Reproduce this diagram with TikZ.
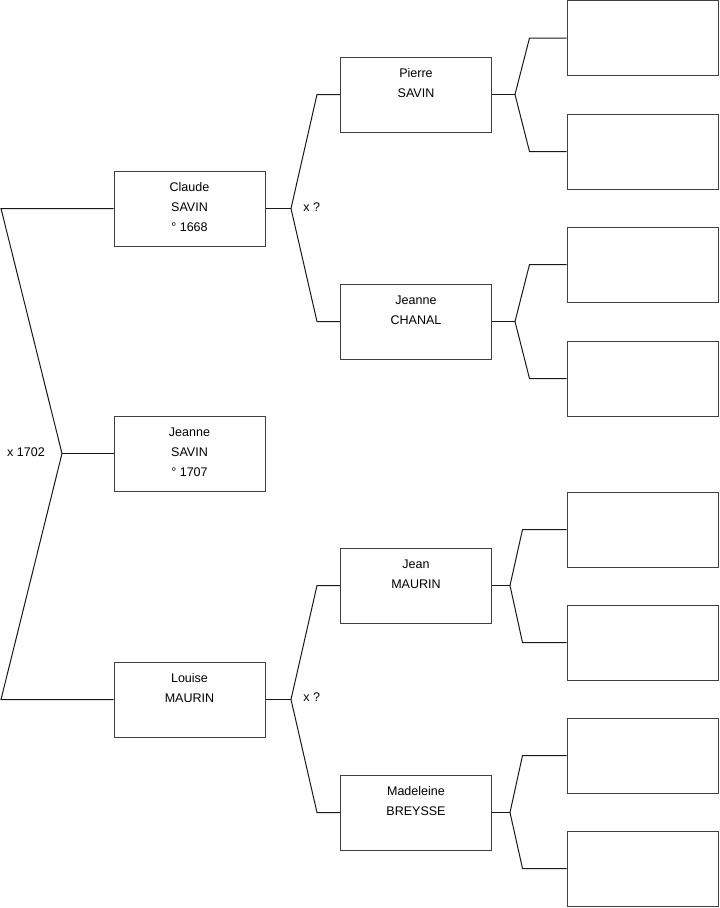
\documentclass[tikz,border=0pt]{standalone}
\usepackage{fontspec}
\setmainfont{Liberation Sans}
\usetikzlibrary{calc}
\begin{document}
\begin{tikzpicture}[x=0.75pt,y=-0.75pt,
  person/.style={draw=black!75,line width=0.75pt,minimum width=113.25pt,minimum height=56.25pt,inner sep=0pt},
  names/.style={anchor=north,align=center,inner sep=0pt,font=\fontsize{9.4}{15}\selectfont},
  lbl/.style={inner sep=0pt,font=\fontsize{9.4}{11}\selectfont},
  link/.style={draw=black!90,line width=0.75pt}]
\useasboundingbox (0,0) rectangle (719,908);
% generation 1
\node[person] (claude) at (189.5,208.5) {};
\node[person] (jeanneS) at (189.5,453.5) {};
\node[person] (louise) at (189.5,699.5) {};
% generation 2
\node[person] (pierre) at (416,94.5) {};
\node[person] (chanal) at (416,321.5) {};
\node[person] (jean) at (416,585.5) {};
\node[person] (madeleine) at (416,812.5) {};
% generation 3
\node[person] (r1) at (642.5,38) {};
\node[person] (r2) at (642.5,151.5) {};
\node[person] (r3) at (642.5,264.5) {};
\node[person] (r4) at (642.5,378.5) {};
\node[person] (r5) at (642.5,529.5) {};
\node[person] (r6) at (642.5,642.5) {};
\node[person] (r7) at (642.5,755.5) {};
\node[person] (r8) at (642.5,868.5) {};
% names
\node[names] (tclaude) at ($(claude.north)+(0,12)$) {Claude\\SAVIN\\° 1668};
\node[names] (tjeanneS) at ($(jeanneS.north)+(0,12)$) {Jeanne\\SAVIN\\° 1707};
\node[names] (tlouise) at ($(louise.north)+(0,12)$) {Louise\\MAURIN};
\node[names] (tpierre) at ($(pierre.north)+(0,12)$) {Pierre\\SAVIN};
\node[names] (tchanal) at ($(chanal.north)+(0,12)$) {Jeanne\\CHANAL};
\node[names] (tjean) at ($(jean.north)+(0,12)$) {Jean\\MAURIN};
\node[names] (tmadeleine) at ($(madeleine.north)+(0,12)$) {Madeleine\\BREYSSE};
% root fork
\coordinate (fr) at (62,453.5);
\coordinate (ra) at (1,208.5);
\coordinate (rb) at (1,699.5);
\draw[link] (claude.west) -- (ra) -- (fr) -- (rb) -- (louise.west);
\draw[link] (fr) -- (jeanneS.west);
\node[lbl] (m1) at (26,452) {x 1702};
% Claude fork
\coordinate (fc) at (291,208.5);
\draw[link] (claude.east) -- (fc);
\draw[link] (pierre.west) -- +(-23,0) -- (fc) -- ($(chanal.west)+(-23,0)$) -- (chanal.west);
\node[lbl,anchor=west] (m2) at (303,207.5) {x ?};
% Louise fork
\coordinate (fl) at (291,699.5);
\draw[link] (louise.east) -- (fl);
\draw[link] (jean.west) -- +(-23,0) -- (fl) -- ($(madeleine.west)+(-23,0)$) -- (madeleine.west);
\node[lbl,anchor=west] (m3) at (303,697.5) {x ?};
% right forks
\coordinate (fp) at (515,94.5);
\draw[link] (pierre.east) -- (fp);
\draw[link] (r1.west) -- +(-37,0) -- (fp) -- ($(r2.west)+(-37,0)$) -- (r2.west);
\coordinate (fch) at (515,321.5);
\draw[link] (chanal.east) -- (fch);
\draw[link] (r3.west) -- +(-37,0) -- (fch) -- ($(r4.west)+(-37,0)$) -- (r4.west);
\coordinate (fj) at (510,585.5);
\draw[link] (jean.east) -- (fj);
\draw[link] (r5.west) -- +(-44,0) -- (fj) -- ($(r6.west)+(-44,0)$) -- (r6.west);
\coordinate (fm) at (510,812.5);
\draw[link] (madeleine.east) -- (fm);
\draw[link] (r7.west) -- +(-44,0) -- (fm) -- ($(r8.west)+(-44,0)$) -- (r8.west);
\end{tikzpicture}
\end{document}
